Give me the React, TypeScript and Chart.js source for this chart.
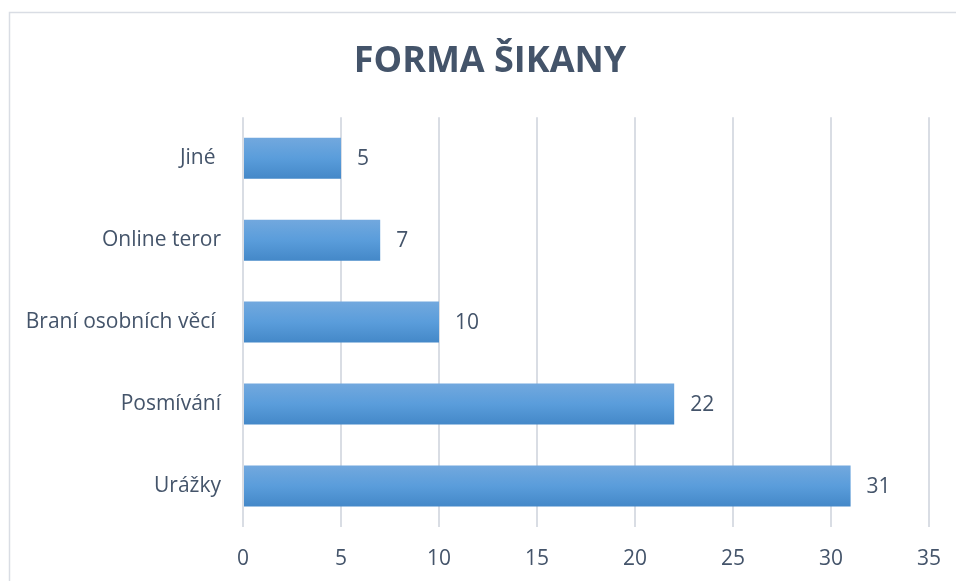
import React, { useEffect, useRef } from "react";
import { Chart, registerables } from "chart.js";

Chart.register(...registerables);

const categories = ["Jiné ", "Online teror", "Braní osobních věcí ", "Posmívání", "Urážky"];
const values = [5, 7, 10, 22, 31];
const xTicks = [0, 5, 10, 15, 20, 25, 30, 35];
const titleText = "FORMA ŠIKANY";

const TEXT = "#44546A";
const FONT = "'Open Sans', 'DejaVu Sans', sans-serif";

const framePlugin = {
  id: "frame",
  beforeDraw(chart: any) {
    const ctx = chart.ctx;
    ctx.save();
    ctx.fillStyle = "#ffffff";
    ctx.fillRect(0, 0, chart.width, chart.height);
    ctx.strokeStyle = "#d9dde4";
    ctx.lineWidth = 1.5;
    ctx.strokeRect(9.5, 12.5, chart.width - 14, chart.height + 20);
    ctx.restore();
  },
};

const labelPlugin = {
  id: "barLabels",
  afterDatasetsDraw(chart: any) {
    const ctx = chart.ctx;
    const meta = chart.getDatasetMeta(0);
    ctx.save();
    ctx.fillStyle = TEXT;
    ctx.font = `21px ${FONT}`;
    ctx.textAlign = "left";
    ctx.textBaseline = "middle";
    meta.data.forEach((bar: any, i: number) => {
      ctx.fillText(String(values[i]), bar.x + 16, bar.y + 1);
    });
    ctx.restore();
  },
};

export default function App() {
  const ref = useRef<HTMLCanvasElement>(null);
  useEffect(() => {
    const canvas = ref.current!;
    const chart = new Chart(canvas, {
      type: "bar",
      data: {
        labels: categories,
        datasets: [
          {
            data: values,
            backgroundColor: (c: any) => {
              const ch = c.chart;
              const ys = ch.scales && ch.scales.y;
              if (!ch.chartArea || !ys) return "#5b9bd5";
              const y = ys.getPixelForValue(c.dataIndex);
              const step = ys.height / categories.length;
              const h = step * 0.5;
              if (!isFinite(y) || !isFinite(h) || h <= 0) return "#5b9bd5";
              const g = ch.ctx.createLinearGradient(0, y - h / 2, 0, y + h / 2);
              g.addColorStop(0, "#72a8de");
              g.addColorStop(0.5, "#5a9ddb");
              g.addColorStop(1, "#4488c8");
              return g;
            },
            borderWidth: 0,
            categoryPercentage: 1,
            barPercentage: 0.5,
          },
        ],
      },
      options: {
        indexAxis: "y",
        responsive: false,
        animation: false,
        maintainAspectRatio: false,
        layout: { padding: { left: 0, right: 0, top: 0, bottom: 0 } },
        plugins: {
          legend: { display: false },
          tooltip: { enabled: false },
          title: {
            display: true,
            text: titleText,
            color: TEXT,
            font: { family: FONT, size: 36, weight: "bold" },
            padding: { top: 40, bottom: 34 },
          },
        },
        scales: {
          x: {
            min: 0,
            max: 35,
            afterBuildTicks: (s: any) => {
              s.ticks = xTicks.map((v) => ({ value: v }));
            },
            afterFit: (s: any) => {
              s.height = 54;
            },
            grid: { color: "#d9dde4", lineWidth: 2, drawTicks: false },
            border: { display: false },
            ticks: {
              color: TEXT,
              font: { family: FONT, size: 21 },
              padding: 19,
              maxRotation: 0,
            },
          },
          y: {
            grid: { display: false, drawTicks: false },
            border: { display: false },
            afterFit: (s: any) => {
              s.width = 243;
            },
            ticks: {
              color: TEXT,
              font: { family: FONT, size: 21 },
              padding: 22,
            },
          },
          yRight: {
            type: "category",
            position: "right",
            labels: categories,
            grid: { display: false, drawTicks: false },
            border: { display: false },
            ticks: { display: false },
            afterFit: (s: any) => {
              s.width = 51;
            },
          },
        },
      },
      plugins: [framePlugin, labelPlugin],
    });
    return () => chart.destroy();
  }, []);
  return (
    <div style={{ position: "absolute", left: 0, top: 0, width: 956, height: 581, overflow: "hidden", background: "#fff" }}>
      <canvas ref={ref} width={980} height={581} style={{ display: "block" }} />
    </div>
  );
}
